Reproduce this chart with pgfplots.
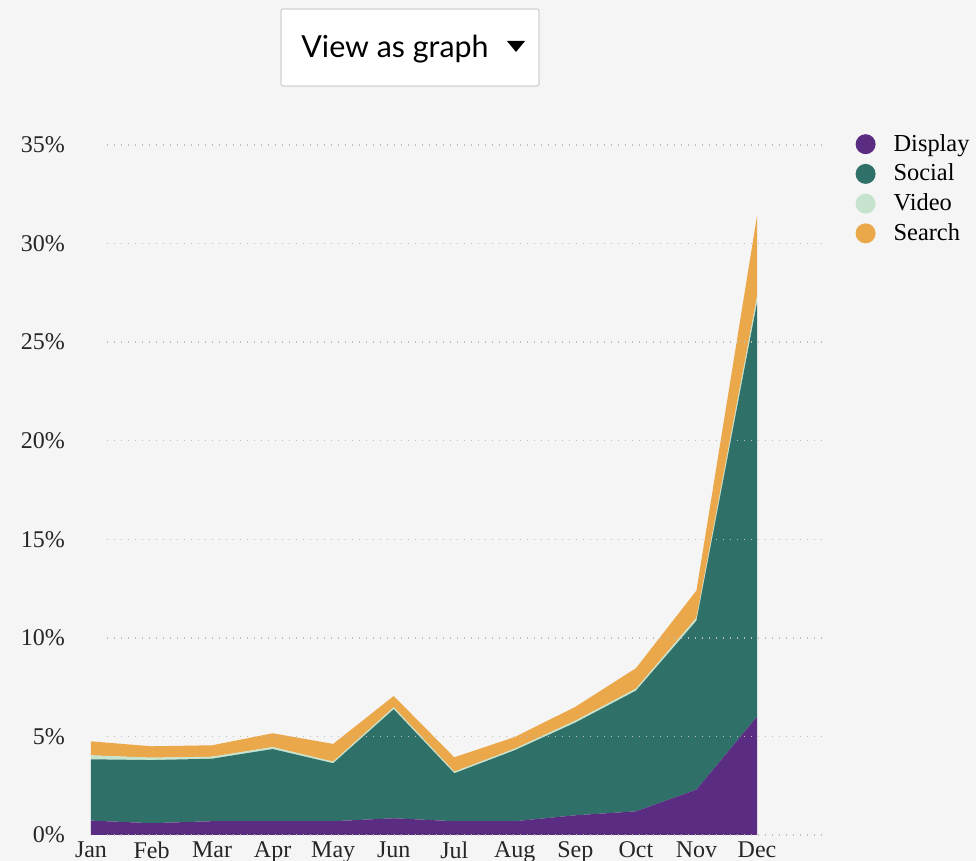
\documentclass[border=0pt]{standalone}
\usepackage{fontspec}
\setmainfont{Liberation Serif}
\newfontfamily\btnfont{Lato}
\usepackage{pgfplots}
\pgfplotsset{compat=1.18}

\definecolor{bg}{HTML}{F5F5F5}
\definecolor{cDisplay}{HTML}{5B2D82}
\definecolor{cSocial}{HTML}{2F7169}
\definecolor{cVideo}{HTML}{C6E3CD}
\definecolor{cSearch}{HTML}{EBA84A}
\definecolor{gridc}{HTML}{BDBDBD}

\begin{document}
\begin{tikzpicture}
% page background, 1px = 0.5pt
\fill[bg] (0,0) rectangle (488pt,430.5pt);
\useasboundingbox (0,0) rectangle (488pt,430.5pt);

% "View as graph" button
\filldraw[fill=white, draw=gray!35, rounded corners=1pt, line width=0.6pt]
  (140.5pt,387.5pt) rectangle (269.5pt,426pt);
\node[anchor=west, inner sep=0pt, font=\btnfont\fontsize{15.2}{18}\selectfont]
  at (150.5pt,406pt) {View as graph};
\fill[black] (253.5pt,410pt) -- (262.5pt,410pt) -- (258pt,404.5pt) -- cycle;

\begin{axis}[
    at={(45.5pt,13pt)}, anchor=south west,
    scale only axis, width=366pt, height=345pt,
    xmin=0, xmax=12.09, ymin=0, ymax=35,
    clip=false,
    axis line style={draw=none},
    major tick length=0pt,
    xtick={0,...,11},
    xticklabels={Jan,Feb,Mar,Apr,May,Jun,Jul,Aug,Sep,Oct,Nov,Dec},
    ytick={0,5,...,35},
    yticklabel={\pgfmathprintnumber{\tick}\%},
    /pgf/number format/assume math mode=true,
    tick label style={font=\fontsize{12}{14}\selectfont, text=black!85},
    yticklabel style={xshift=-9.5pt},
    stack plots=y,
    legend style={at={(rel axis cs:1.044,1.022)}, anchor=north west,
        draw=none, fill=none, font=\fontsize{12.2}{14}\selectfont,
        row sep=0.9pt, inner sep=0pt},
    legend cell align=left,
    legend image code/.code={\fill (4pt,0) circle (5pt); \path (16pt,0);},
]

% dotted grid lines
\pgfplotsinvokeforeach{0,5,...,35}{
  \draw[gridc, line width=0.7pt, dash pattern=on 0.5pt off 3pt]
    (axis cs:0.264,#1) -- (axis cs:12.09,#1);
}

\addplot[draw=none, fill=cDisplay] coordinates {
  (0,0.73) (1,0.60) (2,0.70) (3,0.70) (4,0.70) (5,0.85)
  (6,0.70) (7,0.70) (8,1.00) (9,1.20) (10,2.30) (11,6.00)
} \closedcycle;
\addlegendentry{Display}

\addplot[draw=none, fill=cSocial] coordinates {
  (0,3.11) (1,3.20) (2,3.17) (3,3.66) (4,2.94) (5,5.53)
  (6,2.43) (7,3.60) (8,4.70) (9,6.12) (10,8.57) (11,21.00)
} \closedcycle;
\addlegendentry{Social}

\addplot[draw=none, fill=cVideo] coordinates {
  (0,0.20) (1,0.12) (2,0.10) (3,0.10) (4,0.08) (5,0.10)
  (6,0.08) (7,0.08) (8,0.10) (9,0.10) (10,0.15) (11,0.30)
} \closedcycle;
\addlegendentry{Video}

\addplot[draw=none, fill=cSearch] coordinates {
  (0,0.71) (1,0.58) (2,0.58) (3,0.70) (4,0.90) (5,0.57)
  (6,0.73) (7,0.59) (8,0.70) (9,1.04) (10,1.38) (11,4.10)
} \closedcycle;
\addlegendentry{Search}

\end{axis}
\end{tikzpicture}
\end{document}
